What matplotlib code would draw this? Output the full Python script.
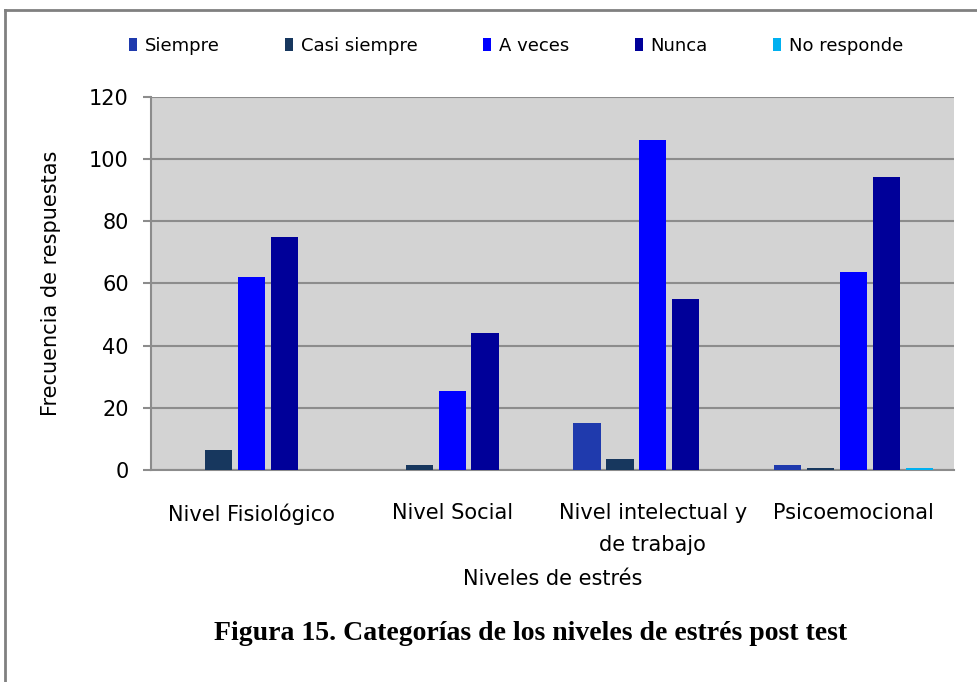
import matplotlib
matplotlib.use("Agg")
import matplotlib.pyplot as plt
import numpy as np
from matplotlib.lines import Line2D

categories = ["Nivel Fisiológico", "Nivel Social", "Nivel intelectual y\nde trabajo", "Psicoemocional"]
series_names = ["Siempre", "Casi siempre", "A veces", "Nunca", "No responde"]
siempre = [0, 0, 15, 1.6]
casi_siempre = [6.4, 1.6, 3.5, 0.5]
a_veces = [62, 25.5, 106, 63.6]
nunca = [75, 44, 55, 94.3]
no_responde = [0, 0, 0, 0.5]
colors = ["#1f3aad", "#17375e", "#0000ff", "#000099", "#00b0f0"]
yticks = [0, 20, 40, 60, 80, 100, 120]

plt.rcParams['font.family'] = ['DejaVu Sans']

fig = plt.figure(figsize=(9.78, 6.82), dpi=100)
ax = fig.add_axes([151/978, 1-470/682, (954-151)/978, (470-96.7)/682])
ax.set_facecolor("#d3d3d3")

data = [siempre, casi_siempre, a_veces, nunca, no_responde]
x = np.arange(len(categories))
step = 0.164
width = 0.135
handles = []
for i, (vals, c, name) in enumerate(zip(data, colors, series_names)):
    b = ax.bar(x + (i - 2) * step, vals, width=width, color=c, label=name, zorder=3)
    handles.append(b)

ax.set_xlim(-0.5, len(categories) - 0.5)
ax.set_ylim(0, 120)
ax.set_yticks(yticks)
ax.yaxis.grid(True, color="#8c8c8c", linewidth=1.5, zorder=1)
ax.set_axisbelow(True)
for s in ["top", "right"]:
    ax.spines[s].set_visible(False)
for s in ["left", "bottom"]:
    ax.spines[s].set_color("#8c8c8c")
    ax.spines[s].set_linewidth(1.5)
ax.tick_params(axis="y", length=6, width=1.5, color="#8c8c8c", pad=10, labelsize=15)
ax.tick_params(axis="x", length=0, pad=24, labelsize=15)
ax.set_xticks(x)
ax.set_xticklabels(categories, linespacing=1.75)
ax.set_ylabel("Frecuencia de respuestas", fontsize=15, labelpad=20)
ax.set_xlabel("Niveles de estrés", fontsize=15, labelpad=10)

fig.legend(handles=handles, labels=series_names, loc="center", bbox_to_anchor=(0.5276, 1-46/682),
           ncol=5, frameon=False, fontsize=13, handlelength=0.45, handleheight=0.7,
           handletextpad=0.4, columnspacing=3.65)

fig.text(0.542, 1-633/682, "Figura 15. Categorías de los niveles de estrés post test",
         ha="center", va="center", fontsize=20, fontweight="bold",
         family=["Liberation Serif", "DejaVu Serif"])

fig.add_artist(Line2D([5/978, 5/978], [0, 1-10/682], color="#808080", linewidth=2, transform=fig.transFigure))
fig.add_artist(Line2D([5/978, 1], [1-10/682, 1-10/682], color="#808080", linewidth=2, transform=fig.transFigure))

fig.savefig("out.png", dpi=100)
